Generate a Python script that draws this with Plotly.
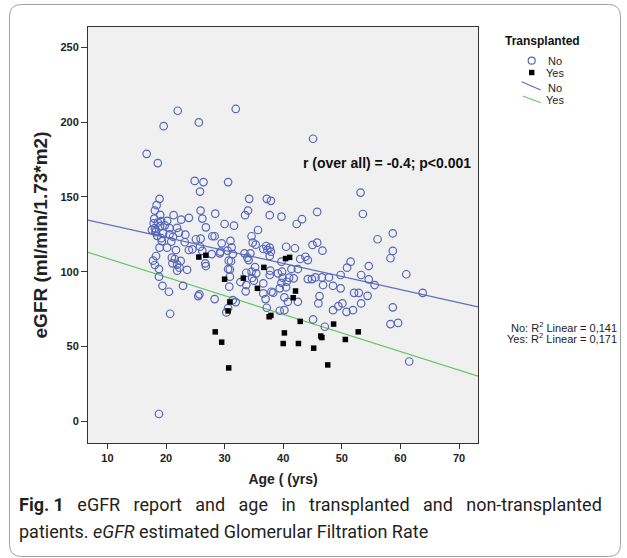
import plotly.graph_objects as go

# ---------------- data ----------------
no_age = [16.7, 18.6, 19.6, 22.0, 25.6, 31.9, 45.1, 53.2, 53.6,
          24.9, 26.4, 25.8, 30.6, 18.9, 18.4, 18.1, 34.2, 37.2, 37.9, 34.0, 33.5, 37.7, 39.7, 25.9, 26.2,
          28.4, 19.0, 21.3, 20.2, 22.6, 23.9, 17.9, 18.6, 19.2, 18.1, 19.0, 18.3, 26.8, 30.0, 31.6, 20.6,
          21.9, 18.2, 19.5, 20.6, 22.2, 23.3, 35.7, 34.6, 21.2, 19.3, 20.9, 23.2, 25.1, 25.9, 27.9, 28.3,
          29.5, 31.0, 34.8, 35.3, 37.1, 37.7, 18.9, 20.2, 23.9, 24.5, 29.2, 30.5, 31.2, 31.4, 33.4, 34.4,
          36.6, 37.3, 37.9, 27.8, 18.3, 17.8, 18.1, 18.8, 21.0, 21.5, 22.5, 21.1, 21.9, 22.3, 21.9, 23.6,
          26.7, 26.8, 31.1, 30.6, 35.2, 34.6, 33.7, 35.4, 37.7, 39.8, 39.9, 30.9, 18.8, 19.4, 20.5, 22.9,
          32.7, 33.6, 30.8, 38.0, 25.5, 25.7, 28.3, 20.7, 18.8, 30.3, 30.6, 31.4, 31.9, 36.6, 37.0, 38.3,
          37.2, 39.4, 42.3, 43.2, 45.8, 45.0, 45.8, 46.7, 56.1, 58.7, 58.7, 58.3, 61.0, 63.8, 40.5, 42.0,
          39.7, 41.4, 42.5, 42.9, 43.8, 44.2, 40.6, 40.5, 40.2, 40.8, 42.5, 40.2, 44.2, 44.9, 45.5, 46.6,
          47.8, 46.8, 48.5, 49.8, 49.8, 51.5, 50.9, 53.3, 54.6, 54.6, 55.6, 52.1, 52.9, 54.4, 53.3, 50.1,
          49.4, 48.5, 50.8, 51.9, 46.2, 46.0, 45.1, 47.1, 58.7, 58.3, 59.6, 61.5, 39.7, 37.7, 29.3, 33.9,
          34.1, 30.7, 30.9, 35.0, 36.6, 33.7, 41.0, 41.8, 37.8, 39.1, 39.4, 25.8, 26.2, 21.7, 19.2, 18.0,
          19.8, 18.5, 17.6, 34.7]
no_egfr = [178.8, 172.6, 197.3, 207.6, 199.8, 208.8, 188.9, 152.9, 138.6,
           160.7, 159.9, 153.6, 159.9, 148.7, 144.5, 140.9, 148.7, 148.7, 147.4, 140.9, 137.8, 137.8, 136.8, 140.9, 135.5,
           138.8, 138.0, 137.8, 134.0, 134.8, 136.0, 132.4, 132.8, 133.8, 129.1, 130.5, 127.5, 129.7, 131.9, 130.8, 129.1,
           129.3, 126.4, 125.7, 125.0, 126.1, 124.8, 127.9, 123.7, 123.4, 120.4, 120.1, 119.7, 121.7, 122.1, 123.7, 123.7,
           119.0, 120.6, 119.4, 118.1, 117.2, 116.1, 116.1, 116.1, 114.5, 115.0, 112.3, 114.1, 116.3, 111.8, 112.3, 112.3,
           115.2, 114.5, 113.4, 111.8, 110.5, 107.4, 104.5, 101.8, 109.4, 108.5, 107.2, 105.6, 104.7, 102.7, 100.7, 101.3,
           105.6, 103.8, 107.0, 101.8, 103.1, 100.0, 99.3, 98.9, 97.8, 100.0, 96.0, 96.7, 96.7, 90.6, 86.6, 90.6,
           93.1, 86.9, 90.0, 86.6, 83.7, 84.9, 81.7, 71.9, 4.9, 72.8, 75.7, 81.0, 79.7, 85.5, 81.7, 86.0,
           75.9, 73.9, 131.9, 135.1, 140.0, 117.9, 119.4, 114.1, 121.7, 125.7, 113.9, 109.0, 98.3, 85.9, 116.7, 115.7,
           106.7, 101.8, 101.8, 108.5, 110.0, 107.8, 93.3, 89.6, 82.9, 79.9, 79.9, 74.3, 95.1, 95.1, 96.2, 96.2,
           96.2, 91.1, 90.6, 88.9, 97.8, 106.7, 102.7, 97.8, 103.8, 94.9, 91.1, 85.9, 85.9, 83.9, 78.8, 78.8,
           77.0, 74.3, 73.2, 74.3, 83.7, 78.8, 68.1, 63.2, 76.2, 65.0, 65.8, 40.0, 92.6, 110.5, 113.4, 109.4,
           107.8, 107.4, 101.5, 94.0, 92.2, 91.1, 96.0, 95.6, 100.7, 98.9, 88.9, 116.7, 113.9, 114.5, 122.4, 135.5,
           131.0, 124.0, 128.0, 95.8]

yes_age = [25.6, 26.8, 30.0, 33.2, 35.6, 36.7, 40.4, 41.1, 42.1, 41.7, 30.9, 30.6, 37.6, 37.9,
           28.4, 29.5, 30.7, 40.2, 40.0, 42.9, 42.6, 45.2, 46.4, 46.6, 48.6, 47.6, 50.6, 52.8]
yes_egfr = [109.8, 111.0, 95.0, 95.7, 88.9, 102.9, 108.8, 109.6, 87.1, 82.6, 79.8, 73.8, 69.9, 70.8,
            59.8, 52.9, 35.7, 59.1, 52.0, 66.8, 52.0, 48.9, 57.0, 56.0, 65.0, 37.7, 54.7, 59.8]

# linear fits (intercept, slope) as shown in the reference
fit_no = [140.4, -0.872]
fit_yes = [121.3, -1.244]

x_ticks = [10, 20, 30, 40, 50, 60, 70]
y_ticks = [0, 50, 100, 150, 200, 250]
x_range = [6.69, 73.24]
y_range = [-14.5, 263.6]

# ---------------- styling ----------------
W, H = 627, 558
L, R, T, B = 88, 478, 27, 443
BLUE = "#5466b9"
BLUE_LINE = "#5b6fc0"
GREEN = "#62c862"
FONT = "Liberation Sans, Arial, sans-serif"
CAP_FONT = "Roboto, sans-serif"
NB = "\u00a0"


def pxx(x):
    return (x - L) / (R - L)


def pxy(y):
    return (B - y) / (B - T)


fig = go.Figure()

for name, coef, color in [("No", fit_no, BLUE_LINE), ("Yes", fit_yes, GREEN)]:
    xs = list(x_range)
    ys = [coef[0] + coef[1] * v for v in xs]
    fig.add_trace(go.Scatter(x=xs, y=ys, mode="lines", name=name + " (linear fit)",
                             line=dict(color=color, width=1.2), showlegend=False,
                             hoverinfo="skip"))

fig.add_trace(go.Scatter(x=no_age, y=no_egfr, mode="markers", name="No",
                         marker=dict(symbol="circle-open", size=7.5, color=BLUE,
                                     line=dict(width=1.2)),
                         showlegend=False))
fig.add_trace(go.Scatter(x=yes_age, y=yes_egfr, mode="markers", name="Yes",
                         marker=dict(symbol="square", size=5.5, color="black",
                                     line=dict(width=0)),
                         showlegend=False))

axis_common = dict(showgrid=False, zeroline=False, showline=True, mirror=True,
                   linecolor="#333333", linewidth=1, ticks="outside",
                   tickcolor="#333333", tickwidth=1,
                   tickfont=dict(family=FONT, size=11, color="#222222", weight="bold"))

fig.update_xaxes(range=x_range, tickvals=x_ticks, ticklen=5,
                 title=dict(text="Age ( (yrs)", standoff=10,
                            font=dict(family=FONT, size=14, color="#222222", weight="bold")),
                 **axis_common)
fig.update_yaxes(range=y_range, tickvals=y_ticks, ticklen=6,
                 title=dict(text="eGFR (ml/min/1.73*m2)", standoff=7,
                            font=dict(family=FONT, size=19, color="#222222", weight="bold")),
                 **axis_common)

ann = []
# correlation text
ann.append(dict(x=pxx(473), y=pxy(163), xref="paper", yref="paper",
                text="r (over all) = -0.4; p<0.001", showarrow=False,
                xanchor="right", yanchor="middle",
                font=dict(family=FONT, size=14, color="#111111", weight="bold")))
# R^2 texts
ann.append(dict(x=pxx(619), y=pxy(326.5), xref="paper", yref="paper",
                text="No: R<sup>2</sup> Linear = 0,141", showarrow=False,
                xanchor="right", yanchor="middle",
                font=dict(family=FONT, size=11, color="#222222")))
ann.append(dict(x=pxx(619), y=pxy(337.5), xref="paper", yref="paper",
                text="Yes: R<sup>2</sup> Linear = 0,171", showarrow=False,
                xanchor="right", yanchor="middle",
                font=dict(family=FONT, size=11, color="#222222")))
# legend (drawn manually for tight spacing)
ann.append(dict(x=pxx(542.5), y=pxy(40.7), xref="paper", yref="paper",
                text="Transplanted", showarrow=False,
                xanchor="center", yanchor="middle",
                font=dict(family=FONT, size=12, color="#111111", weight="bold")))
for label, yy in [("No", 60.7), ("Yes", 72.5), ("No", 87.5), ("Yes", 100)]:
    ann.append(dict(x=pxx(555), y=pxy(yy), xref="paper", yref="paper",
                    text=label, showarrow=False, xanchor="center", yanchor="middle",
                    font=dict(family=FONT, size=11, color="#222222")))
# caption (first line justified to the full width)
gap = " " + NB * 2
line1_words = ["eGFR", "report", "and", "age", "in", "transplanted", "and", "non-transplanted"]
line1 = "<b>Fig. 1</b>" + NB * 3 + gap.join(line1_words)
ann.append(dict(x=pxx(17), y=pxy(504), xref="paper", yref="paper",
                text=line1,
                showarrow=False, xanchor="left", yanchor="middle",
                font=dict(family=CAP_FONT, size=18, color="#231f20")))
ann.append(dict(x=pxx(17), y=pxy(531), xref="paper", yref="paper",
                text="patients. <i>eGFR</i> estimated Glomerular Filtration Rate",
                showarrow=False, xanchor="left", yanchor="middle",
                font=dict(family=CAP_FONT, size=18, color="#231f20")))

shapes = []
# legend keys
shapes.append(dict(type="circle", xref="paper", yref="paper",
                   xsizemode="pixel", ysizemode="pixel",
                   xanchor=pxx(531.7), yanchor=pxy(60.7),
                   x0=-3.5, x1=3.5, y0=-3.5, y1=3.5,
                   line=dict(color=BLUE, width=1.2)))
shapes.append(dict(type="rect", xref="paper", yref="paper",
                   xsizemode="pixel", ysizemode="pixel",
                   xanchor=pxx(531.7), yanchor=pxy(72.5),
                   x0=-2.7, x1=2.7, y0=-2.7, y1=2.7,
                   fillcolor="black", line=dict(width=0)))
shapes.append(dict(type="line", xref="paper", yref="paper",
                   x0=pxx(521.7), y0=pxy(81.7), x1=pxx(540.7), y1=pxy(90),
                   line=dict(color=BLUE_LINE, width=1.2)))
shapes.append(dict(type="line", xref="paper", yref="paper",
                   x0=pxx(522.7), y0=pxy(96), x1=pxx(540.7), y1=pxy(102.7),
                   line=dict(color=GREEN, width=1.2)))

# outer rounded frame
x0, x1, y0, y1, r = 9.5, 620.5, 4.5, 556.5, 12


def P(x, y):
    return f"{pxx(x):.5f},{pxy(y):.5f}"


path = (f"M {P(x0 + r, y0)} L {P(x1 - r, y0)} Q {P(x1, y0)} {P(x1, y0 + r)} "
        f"L {P(x1, y1 - r)} Q {P(x1, y1)} {P(x1 - r, y1)} "
        f"L {P(x0 + r, y1)} Q {P(x0, y1)} {P(x0, y1 - r)} "
        f"L {P(x0, y0 + r)} Q {P(x0, y0)} {P(x0 + r, y0)} Z")
shapes.append(dict(type="path", xref="paper", yref="paper", path=path,
                   line=dict(color="#a0a0a0", width=1)))

fig.update_layout(
    width=W, height=H,
    margin=dict(l=L, r=W - R, t=T, b=H - B, pad=0, autoexpand=False),
    paper_bgcolor="white", plot_bgcolor="#f0f0f0",
    showlegend=False,
    annotations=ann, shapes=shapes,
    font=dict(family=FONT),
)

fig.write_html("out.html",
               config={"displayModeBar": False},
               post_script="document.body.style.margin='0';document.body.style.padding='0';")
